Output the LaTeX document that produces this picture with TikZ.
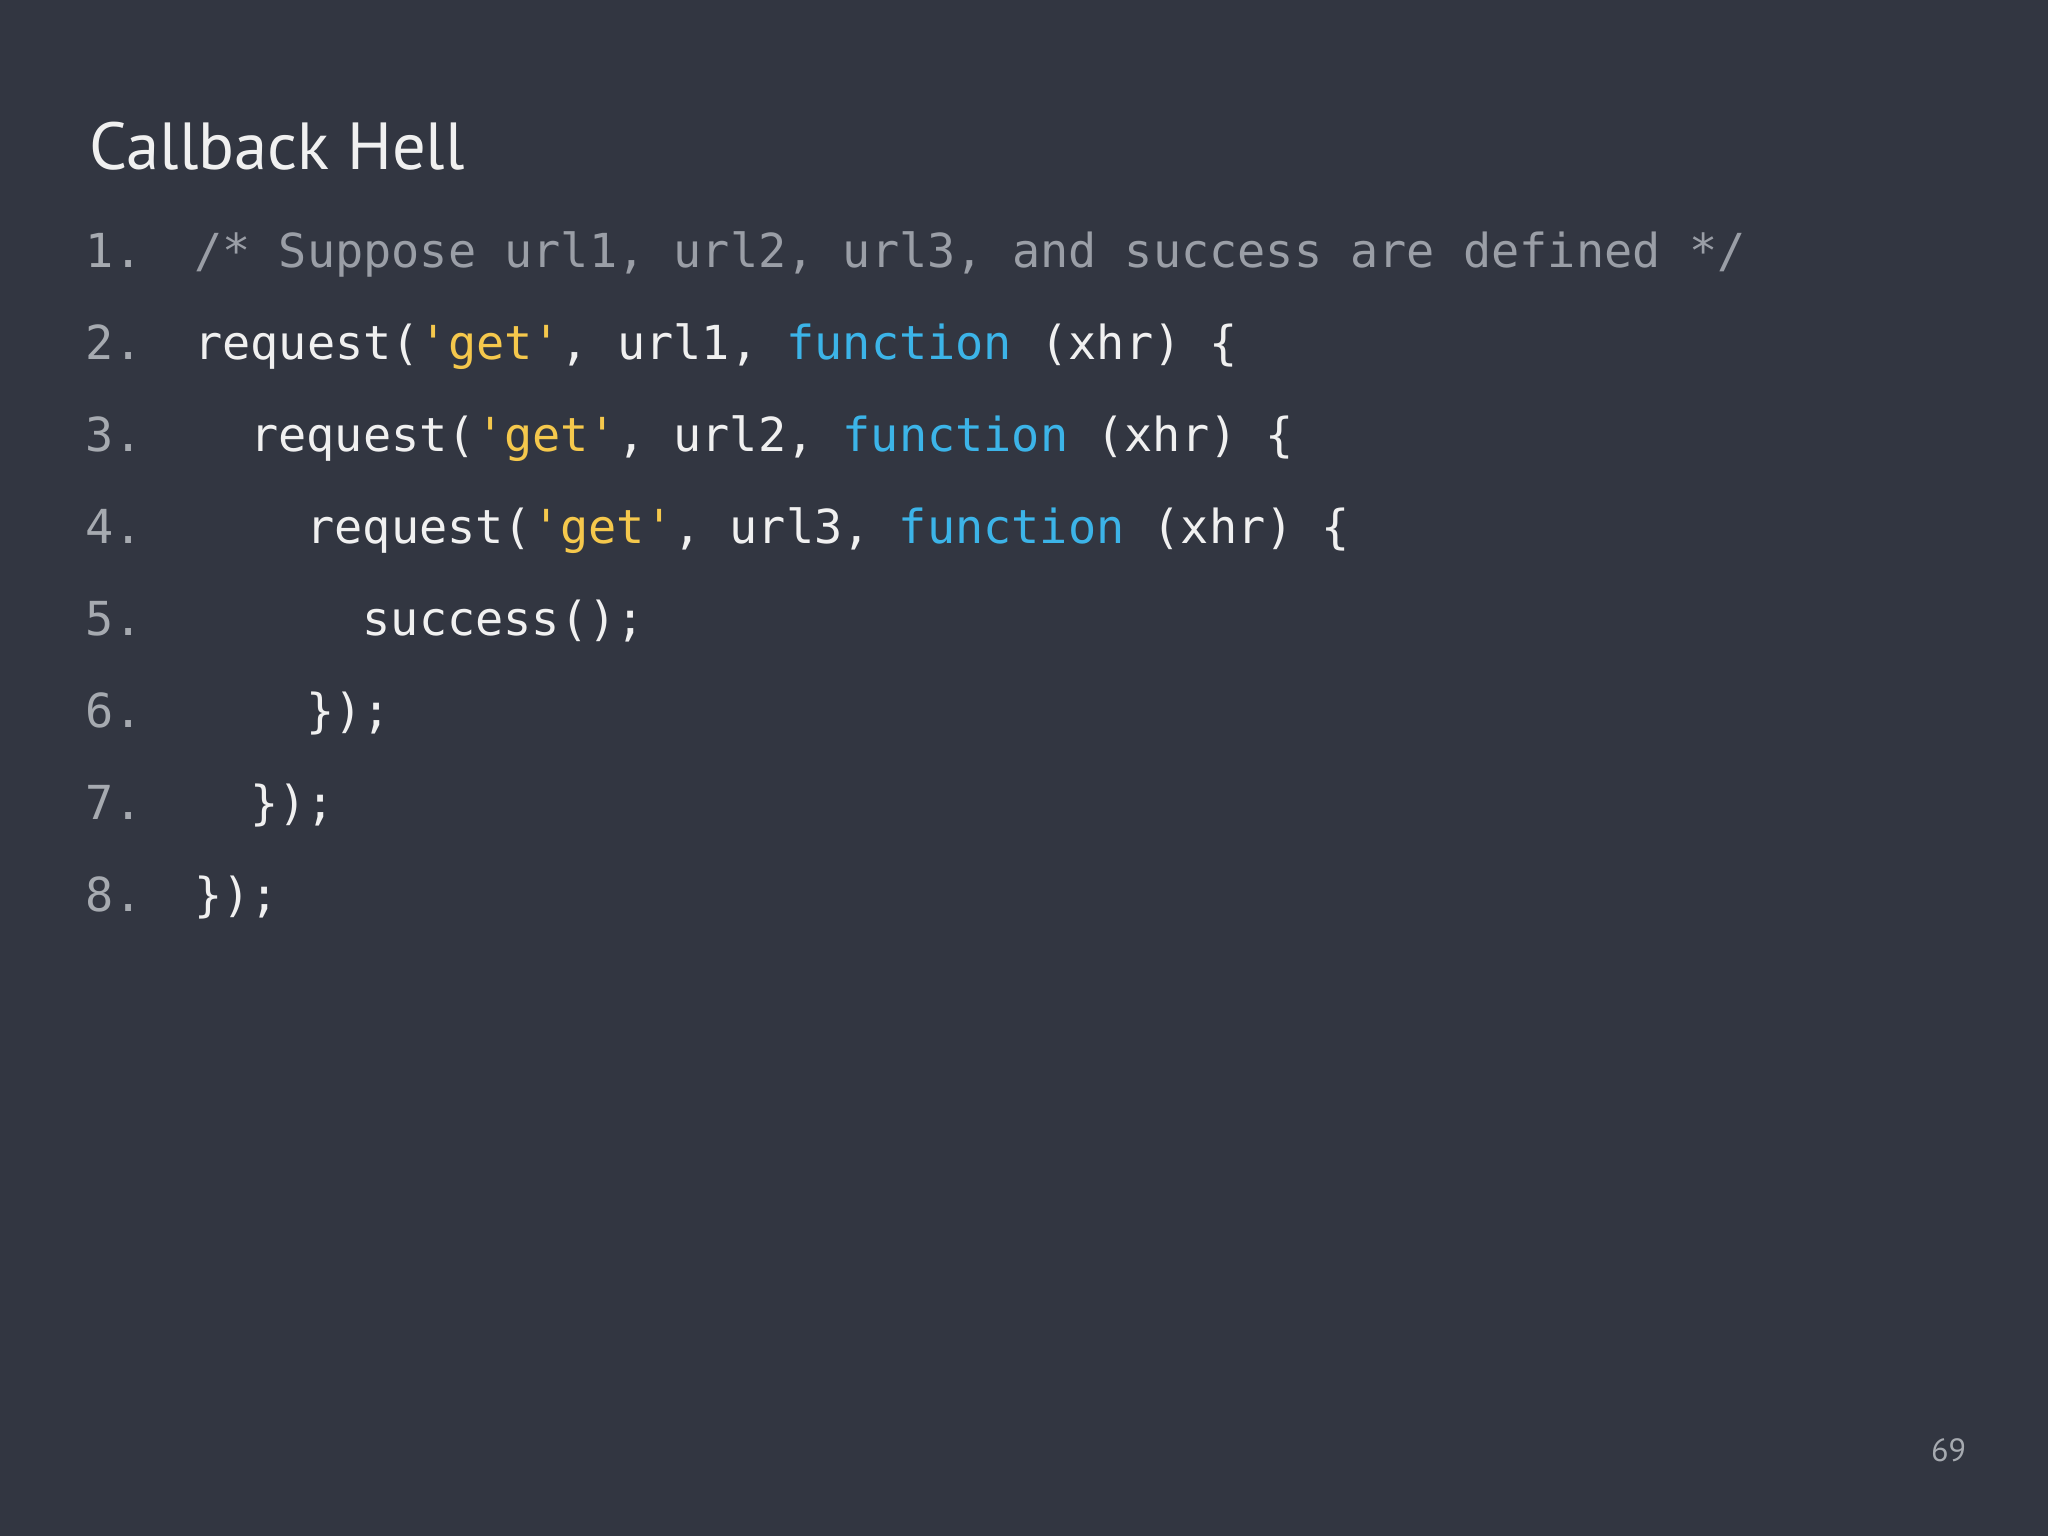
\documentclass[tikz,border=0pt]{standalone}
\usepackage{fontspec}
\setmainfont{PT Sans}
\setmonofont{DejaVu Sans Mono}
\definecolor{bg}{HTML}{323641}
\definecolor{cm}{HTML}{9A9EA6}
\definecolor{wt}{HTML}{F0F0F0}
\definecolor{yl}{HTML}{F5C84C}
\definecolor{bl}{HTML}{3CB4E8}
\definecolor{nm}{HTML}{A6AAB0}
\begin{document}
\begin{tikzpicture}[x=0.01cm,y=-0.01cm,
  code/.style={anchor=base west,inner sep=0pt,font=\fontsize{10.2}{12}\ttfamily,text=wt},
  num/.style={anchor=base west,inner sep=0pt,font=\fontsize{10.2}{12}\ttfamily,text=nm}]
\fill[bg] (0,0) rectangle (1568,1176);
\useasboundingbox (0,0) rectangle (1568,1176);
\node[anchor=base west,inner sep=0pt,font=\fontsize{14.5}{16}\selectfont,text=wt] (title) at (68,130) {Callback Hell};
\foreach \i in {1,...,8}{
  \node[num] (n\i) at (65,{195+70.4*(\i-1)+10}) {\i.};
}
\def\y#1{{195+70.4*(#1-1)+10}}
\node[code,text=cm] (l1) at (148,\y{1}) {/* Suppose url1, url2, url3, and success are defined */};
\node[code] (l2) at (148,\y{2}) {request(\textcolor{yl}{'get'}, url1, \textcolor{bl}{function} (xhr) \{};
\node[code] (l3) at (191,\y{3}) {request(\textcolor{yl}{'get'}, url2, \textcolor{bl}{function} (xhr) \{};
\node[code] (l4) at (234,\y{4}) {request(\textcolor{yl}{'get'}, url3, \textcolor{bl}{function} (xhr) \{};
\node[code] (l5) at (277,\y{5}) {success();};
\node[code] (l6) at (234,\y{6}) {\});};
\node[code] (l7) at (191,\y{7}) {\});};
\node[code] (l8) at (148,\y{8}) {\});};
\node[anchor=base east,inner sep=0pt,font=\fontsize{7}{8}\selectfont,text=nm] (pg) at (1506,1119) {69};
\end{tikzpicture}
\end{document}
